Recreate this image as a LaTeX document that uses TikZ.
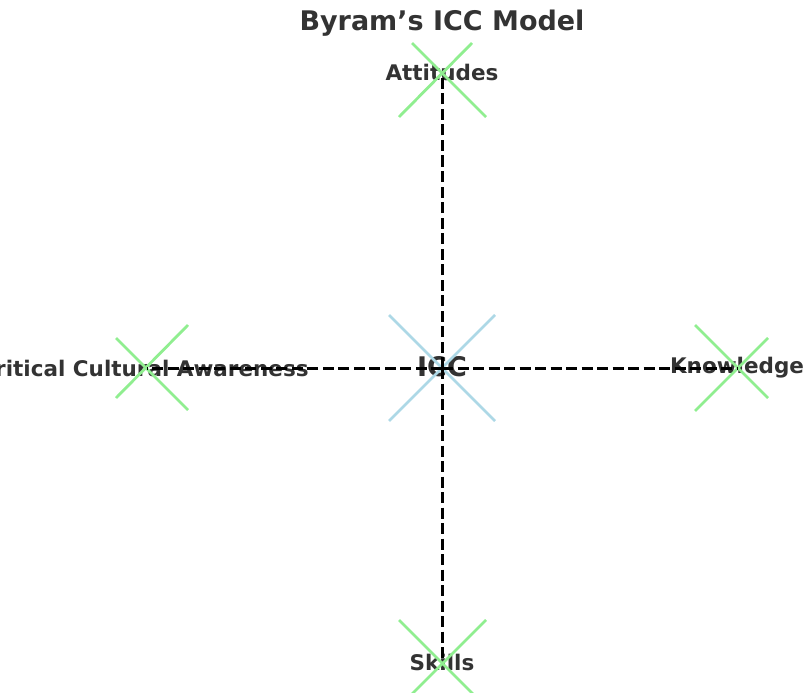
\documentclass[tikz,border=0pt]{standalone}
\usepackage{fontspec}
\setmainfont{DejaVu Sans}
\definecolor{txt}{HTML}{333333}
\definecolor{mkgreen}{HTML}{90EE90}
\definecolor{mkblue}{HTML}{ADD8E6}
\tikzset{
  lbl/.style={text=txt, font=\bfseries\fontsize{21.5}{21.5}\selectfont, inner sep=0pt},
  big/.style={text=txt, font=\bfseries\fontsize{27}{27}\selectfont, inner sep=0pt},
  gx/.style={draw=mkgreen, line width=2.8pt},
  bx/.style={draw=mkblue, line width=2.8pt},
  conn/.style={draw=black, line width=3pt, dash pattern=on 11pt off 4.5pt}
}
\begin{document}
\begin{tikzpicture}[x=1pt,y=-1pt]
\useasboundingbox (0,0) rectangle (807,693);
\clip (0,0) rectangle (807,693);
% positions
\coordinate (icc) at (442,368);
\coordinate (att) at (442,76);
\coordinate (ski) at (442,658);
\coordinate (cca) at (147,368);
\coordinate (kno) at (738,368);
% texts
\node[big] (title) at (442,23.5) {Byram’s ICC Model};
\node[big] (ticc) at (442,367) {ICC};
\node[lbl] (tatt) at (442,72) {Attitudes};
\node[lbl] (tski) at (442,662) {Skills};
\node[lbl] (tcca) at (144,368) {Critical Cultural Awareness};
\node[lbl] (tkno) at (737,368) {Knowledge};
% markers
\draw[bx] (389,315) -- (495,421);
\draw[bx] (389,421) -- (495,315);
\draw[gx] (412,43) -- (486,117);
\draw[gx] (399,117) -- (472,43);
\draw[gx] (399,620) -- (475,696);
\draw[gx] (486,620) -- (410,696);
\draw[gx] (116,338) -- (188,410);
\draw[gx] (116,398) -- (188,325);
\draw[gx] (695,325) -- (768,398);
\draw[gx] (695,411) -- (768,338);
% connectors
\draw[conn] (icc) -- (att);
\draw[conn] (icc) -- (ski);
\draw[conn] (icc) -- (cca);
\draw[conn] (icc) -- (kno);
\end{tikzpicture}
\end{document}
